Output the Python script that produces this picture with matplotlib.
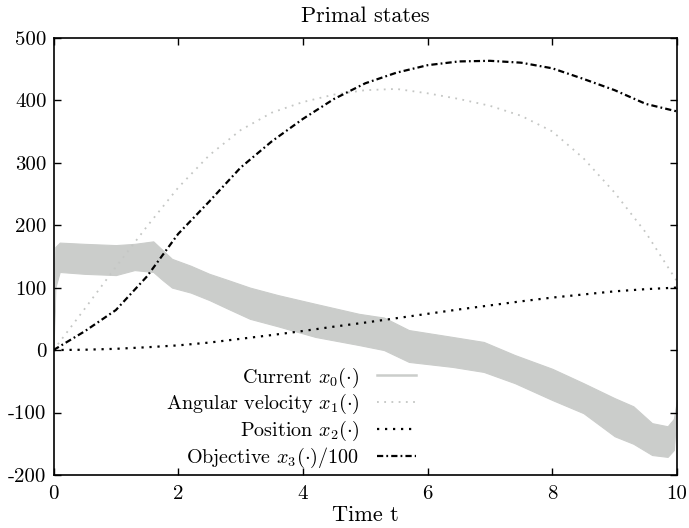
import numpy as np
import matplotlib
matplotlib.use("Agg")
import matplotlib.pyplot as plt
from matplotlib.lines import Line2D

plt.rcParams['font.family'] = ['cmr10', 'DejaVu Serif']
plt.rcParams['mathtext.fontset'] = 'cm'
plt.rcParams['axes.unicode_minus'] = False
plt.rcParams['axes.formatter.use_mathtext'] = False

# ---- data ----
t_grid = [0, 0.5, 1.0, 1.5, 2.0, 2.5, 3.0, 3.5, 4.0, 4.5, 5.0,
          5.5, 6.0, 6.5, 7.0, 7.5, 8.0, 8.5, 9.0, 9.5, 10.0]
angular_velocity = [0, 66, 133, 198, 260, 312, 352, 380, 397, 409, 416,
                    418, 411, 402, 391, 375, 350, 307, 252, 188, 110]
position = [0, 0.5, 2, 4.5, 7.5, 12, 18, 24, 30.5, 37.5, 44,
            51, 58, 65, 71.5, 78, 84, 89, 94, 97.5, 100]
objective = [0, 30, 64, 118, 186, 238, 292, 334, 370, 402, 427,
             444, 456, 462, 463, 460, 451, 434, 416, 394, 382]

current_t = [0, 0.03, 0.1, 0.5, 1.0, 1.3, 1.6, 1.75, 1.9, 2.2, 2.5, 2.8,
             3.15, 3.6, 4.2, 4.9, 5.3, 5.7, 6.4, 6.9, 7.4, 8.0, 8.5, 9.0,
             9.3, 9.6, 9.85, 9.95, 10.0]
current_hi = [0, 165, 172, 170, 168, 170, 174, 160, 146, 135, 122, 112,
              100, 88, 74, 58, 52, 32, 21, 13, -8, -30, -53, -77,
              -90, -117, -122, -110, -80]
current_lo = [0, 100, 125, 122, 120, 128, 125, 112, 100, 92, 80, 66,
              50, 38, 21, 8, 0, -19, -27, -35, -53, -80, -101, -138,
              -150, -168, -171, -160, -90]

xticks = [0, 2, 4, 6, 8, 10]
yticks = [-200, -100, 0, 100, 200, 300, 400, 500]

labels = [r'Current $x_0(\cdot)$', r'Angular velocity $x_1(\cdot)$',
          r'Position $x_2(\cdot)$', r'Objective $x_3(\cdot)/100$']

# ---- figure ----
fig = plt.figure(figsize=(6.89, 5.28), dpi=100)
ax = fig.add_axes([0.07765, 0.10038, 0.90493, 0.82822])

grey = '#cbcdcb'
ax.fill_between(current_t, current_lo, current_hi, color=grey, lw=0.8,
                edgecolor=grey, zorder=1)
h1, = ax.plot(t_grid, angular_velocity, color='#c4c6c4', lw=1.3,
              linestyle=(0, (1, 3)), zorder=2)
h2, = ax.plot(t_grid, position, color='black', lw=1.6,
              linestyle=(0, (1, 2.6)), zorder=3)
h3, = ax.plot(t_grid, objective, color='black', lw=1.6,
              linestyle=(0, (2.8, 1.4, 0.8, 1.4)), zorder=4)
h0 = Line2D([0], [0], color=grey, lw=1.8)

ax.set_xlim(0, 10)
ax.set_ylim(-200, 500)
ax.set_xticks(xticks)
ax.set_xticklabels([str(v) for v in xticks])
ax.set_yticks(yticks)
ax.set_yticklabels([str(v) for v in yticks])
ax.tick_params(direction='in', length=5, width=1.0, labelsize=15,
               top=True, right=True, colors='black')
ax.tick_params(axis='x', pad=7)
ax.tick_params(axis='y', pad=5)
ax.minorticks_off()
for s in ax.spines.values():
    s.set_linewidth(1.2)

ax.set_title('Primal states', fontsize=16, pad=11)
ax.set_xlabel('Time t', fontsize=16, labelpad=2)

leg = ax.legend([h0, h1, h2, h3], labels, loc='lower right',
                bbox_to_anchor=(0.581, 0.012), frameon=False,
                markerfirst=False, fontsize=14.5, handlelength=1.9,
                handletextpad=0.9, labelspacing=0.13, borderpad=0.0,
                borderaxespad=0.0)
vp = leg._legend_box._children[-1]._children[0]
vp.align = 'right'

fig.savefig('out.png', dpi=100)
